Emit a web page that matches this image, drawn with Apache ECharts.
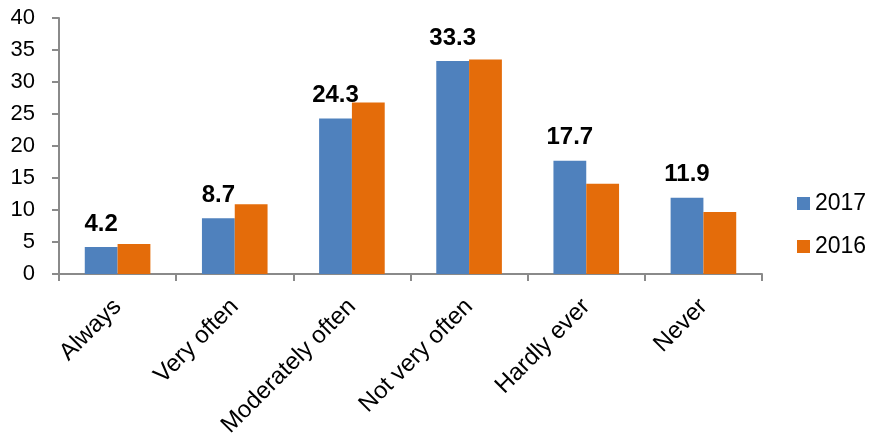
<!DOCTYPE html>
<html>
<head>
<meta charset="utf-8">
<script src="https://cdn.jsdelivr.net/npm/echarts@6/dist/echarts.min.js"></script>
<style>
html,body{margin:0;padding:0;background:#fff;}
#chart{width:874px;height:440px;}
</style>
</head>
<body>
<div id="chart"></div>
<script>
const categories = ['Always', 'Very often', 'Moderately often', 'Not very often', 'Hardly ever', 'Never'];
const values2017 = [4.2, 8.7, 24.3, 33.3, 17.7, 11.9];
const values2016 = [4.7, 10.9, 26.8, 33.5, 14.1, 9.7];
const seriesNames = ['2017', '2016'];

const FONT = '"Liberation Sans", Arial, sans-serif';
const axisColor = '#8a8a8a';

const chart = echarts.init(document.getElementById('chart'), null, {renderer: 'canvas'});
chart.setOption({
  animation: false,
  backgroundColor: '#ffffff',
  textStyle: {fontFamily: FONT},
  grid: {left: 59, right: 112, top: 18, bottom: 166, containLabel: false},
  legend: {
    orient: 'vertical',
    left: 792,
    top: 187,
    itemWidth: 13,
    itemHeight: 13,
    itemGap: 20,
    icon: 'rect',
    textStyle: {fontFamily: FONT, fontSize: 23, color: '#000'},
    data: seriesNames
  },
  xAxis: {
    type: 'category',
    data: categories,
    axisLine: {lineStyle: {color: axisColor, width: 2}},
    axisTick: {show: true, length: 7, lineStyle: {color: axisColor, width: 2}},
    axisLabel: {rotate: 45, fontFamily: FONT, fontSize: 24, color: '#000', margin: 29, interval: 0}
  },
  yAxis: {
    type: 'value',
    min: 0,
    max: 40,
    interval: 5,
    splitLine: {show: false},
    axisLine: {show: true, lineStyle: {color: axisColor, width: 2}},
    axisTick: {show: true, length: 7, lineStyle: {color: axisColor, width: 2}},
    axisLabel: {fontFamily: FONT, fontSize: 22, color: '#000', margin: 24}
  },
  series: [
    {
      name: seriesNames[0],
      type: 'bar',
      data: values2017,
      barGap: '0%',
      barCategoryGap: '44%',
      itemStyle: {color: '#4F81BD'},
      label: {show: true, position: 'top', distance: 11, fontFamily: FONT, fontSize: 24, fontWeight: 'bold', color: '#000'}
    },
    {
      name: seriesNames[1],
      type: 'bar',
      data: values2016,
      barGap: '0%',
      barCategoryGap: '44%',
      itemStyle: {color: '#E46C0A'}
    }
  ]
});
</script>
</body>
</html>
